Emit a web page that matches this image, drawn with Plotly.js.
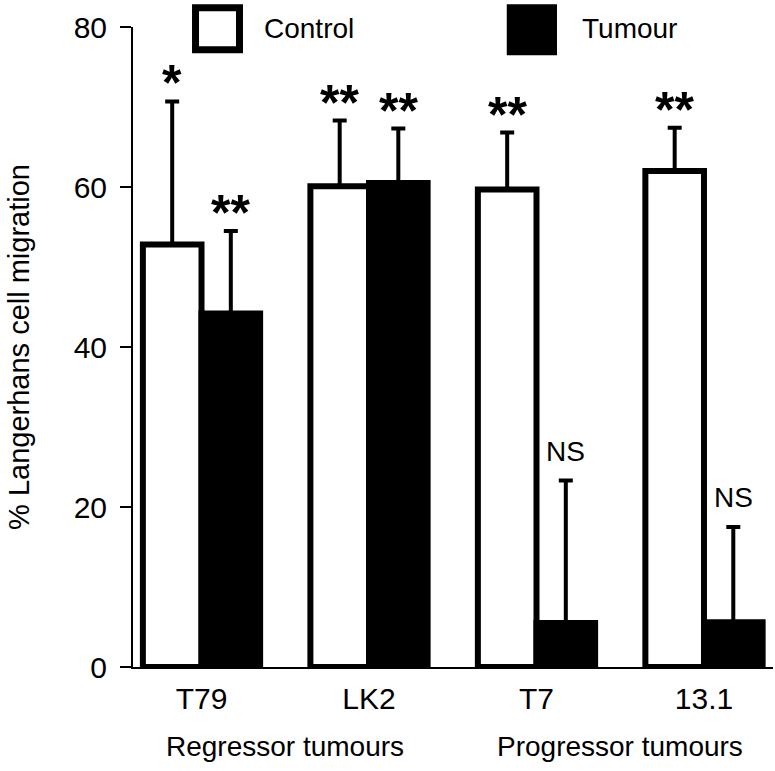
<!DOCTYPE html>
<html>
<head>
<meta charset="utf-8">
<script src="https://cdn.plot.ly/plotly-3.0.1.min.js"></script>
<style>html,body{margin:0;padding:0;background:#fff;}#chart{width:775px;height:771px;}</style>
</head>
<body>
<div id="chart"></div>
<script>
const categories = ['T79', 'LK2', 'T7', '13.1'];
const seriesNames = ['Control', 'Tumour'];
const controlMean = [52.8, 60.1, 59.7, 62.0];
const controlErr = [17.9, 8.2, 7.1, 5.4];
const tumourMean = [44.2, 60.5, 5.5, 5.6];
const tumourErr = [10.3, 6.8, 17.8, 11.9];
const controlSig = ['*', '**', '**', '**'];
const tumourSig = ['**', '**', 'NS', 'NS'];
const groupLabels = ['Regressor tumours', 'Progressor tumours'];
const yTicks = [0, 20, 40, 60, 80];

const FONT = 'Liberation Sans, Arial, Helvetica, sans-serif';
const idx = categories.map((c, i) => i);

const errStyle = {type: 'data', symmetric: false, color: '#000', thickness: 4, width: 7};

const traces = [
  {
    type: 'bar', name: seriesNames[0], x: idx, y: controlMean,
    marker: {color: '#fff', line: {color: '#000', width: 6}},
    error_y: Object.assign({array: controlErr, arrayminus: controlErr.map(() => 0)}, errStyle),
    showlegend: false, hoverinfo: 'none'
  },
  {
    type: 'bar', name: seriesNames[1], x: idx, y: tumourMean,
    marker: {color: '#000', line: {color: '#000', width: 6}},
    error_y: Object.assign({array: tumourErr, arrayminus: tumourErr.map(() => 0)}, errStyle),
    showlegend: false, hoverinfo: 'none'
  }
];

const off = 0.175;
const annotations = [];
function sigAnn(x, y, txt) {
  const star = txt.indexOf('*') >= 0;
  return {
    x: x, y: y, xref: 'x', yref: 'y', text: txt, showarrow: false,
    xanchor: 'center', yanchor: 'bottom',
    yshift: star ? -12 : 12,
    font: star ? {family: FONT, size: 50, color: '#000', weight: 'bold'} : {family: FONT, size: 28, color: '#000'}
  };
}
idx.forEach(i => {
  annotations.push(sigAnn(i - off, controlMean[i] + controlErr[i], controlSig[i]));
  annotations.push(sigAnn(i + off, tumourMean[i] + tumourErr[i], tumourSig[i]));
});
// group labels
annotations.push({x: 0.5, y: -0.124, xref: 'x', yref: 'paper', text: groupLabels[0], showarrow: false,
  xanchor: 'center', yanchor: 'middle', font: {family: FONT, size: 28, color: '#000'}});
annotations.push({x: 2.5, y: -0.124, xref: 'x', yref: 'paper', text: groupLabels[1], showarrow: false,
  xanchor: 'center', yanchor: 'middle', font: {family: FONT, size: 28, color: '#000'}});
// legend labels
annotations.push({x: 0.2016, y: 0.997, xref: 'paper', yref: 'paper', text: seriesNames[0], showarrow: false,
  xanchor: 'left', yanchor: 'middle', font: {family: FONT, size: 28, color: '#000'}});
annotations.push({x: 0.698, y: 0.997, xref: 'paper', yref: 'paper', text: seriesNames[1], showarrow: false,
  xanchor: 'left', yanchor: 'middle', font: {family: FONT, size: 28, color: '#000'}});

const shapes = [
  {type: 'rect', xref: 'paper', yref: 'paper', x0: 0.0977, x1: 0.1664, y0: 0.9644, y1: 1.03,
   line: {color: '#000', width: 7}, fillcolor: '#fff'},
  {type: 'rect', xref: 'paper', yref: 'paper', x0: 0.584, x1: 0.6625, y0: 0.9558, y1: 1.0355,
   line: {color: '#000', width: 0}, fillcolor: '#000'}
];

const layout = {
  width: 775, height: 771,
  margin: {l: 133, r: 2, t: 27, b: 104, pad: 0},
  paper_bgcolor: '#fff', plot_bgcolor: '#fff',
  font: {family: FONT, size: 28, color: '#000'},
  barmode: 'group', bargap: 0.3, bargroupgap: 0,
  showlegend: false,
  xaxis: {
    type: 'linear', range: [-0.409, 3.412],
    tickvals: idx, ticktext: categories, ticks: '',
    showline: true, linecolor: '#000', linewidth: 2,
    showgrid: false, zeroline: false,
    tickfont: {family: FONT, size: 30, color: '#000'},
    ticklabelstandoff: 4
  },
  yaxis: {
    range: [0, 80], tickvals: yTicks, ticks: 'outside', ticklen: 11, tickwidth: 2, tickcolor: '#000',
    showline: true, linecolor: '#000', linewidth: 2,
    showgrid: false, zeroline: false,
    tickfont: {family: FONT, size: 30, color: '#000'},
    ticklabelstandoff: 7,
    title: {text: '% Langerhans cell migration', font: {family: FONT, size: 29, color: '#000'}, standoff: 35}
  },
  annotations: annotations,
  shapes: shapes
};

Plotly.newPlot('chart', traces, layout, {staticPlot: true, displayModeBar: false});
</script>
</body>
</html>
